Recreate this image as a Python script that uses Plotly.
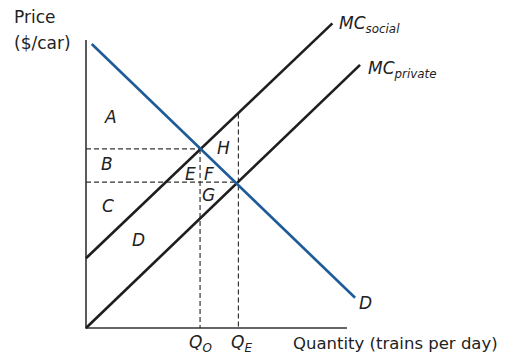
import plotly.graph_objects as go

# ---- data (chart units) ----
axis_q_max = 10.0
axis_p_max = 11.03
demand_q = [0.22, 10.31]
demand_p = [10.88, 1.16]
mc_social_q = [0.0, 9.44]
mc_social_p = [2.67, 11.67]
mc_private_q = [0.0, 10.50]
mc_private_p = [0.0, 10.08]
q_opt, p_opt = 4.37, 6.86
q_eq, p_eq = 5.84, 5.59
mc_social_at_qeq = 8.22

# ---- layout helpers (window pixels; page body has an 8px margin) ----
WIN_W, WIN_H, BODY = 510, 357, 8
X0, Y0, U = 86, 328, 26.1  # origin pixel and pixels per unit


def dx(px):
    return (px - X0) / U


def dy(py):
    return (Y0 - py) / U


FONT = "DejaVu Sans"
BLUE = "#1f5b99"
BLACK = "#1e1e1e"

fig = go.Figure()

# axes
fig.add_trace(go.Scatter(x=[0, 0, axis_q_max], y=[axis_p_max, 0, 0], mode="lines",
                         line=dict(color="#333333", width=1.6), hoverinfo="skip"))
# dashed guides
dash = dict(color="#333333", width=1.2, dash="5px,3px")
fig.add_trace(go.Scatter(x=[0, q_opt], y=[p_opt, p_opt], mode="lines", line=dash))
fig.add_trace(go.Scatter(x=[q_opt, q_opt], y=[p_opt, 0], mode="lines", line=dash))
fig.add_trace(go.Scatter(x=[0, q_eq], y=[p_eq, p_eq], mode="lines", line=dash))
fig.add_trace(go.Scatter(x=[q_eq, q_eq], y=[mc_social_at_qeq, 0], mode="lines", line=dash))
# curves
fig.add_trace(go.Scatter(x=mc_social_q, y=mc_social_p, mode="lines", line=dict(color=BLACK, width=2.6)))
fig.add_trace(go.Scatter(x=mc_private_q, y=mc_private_p, mode="lines", line=dict(color=BLACK, width=2.6)))
fig.add_trace(go.Scatter(x=demand_q, y=demand_p, mode="lines", line=dict(color=BLUE, width=2.6)))

ann = []


def label(text, px, py, size=17, xanchor="center", yanchor="middle", italic=True):
    t = f"<i>{text}</i>" if italic else text
    ann.append(dict(x=dx(px), y=dy(py), text=t, showarrow=False, xanchor=xanchor, yanchor=yanchor,
                    font=dict(family=FONT, size=size, color="#222222")))


# region letters
label("A", 110, 117)
label("B", 107, 164)
label("C", 108, 206)
label("D", 138, 240)
label("E", 190, 174)
label("F", 209, 174)
label("G", 208, 195)
label("H", 223, 148)
label("D", 365, 303)
# curve labels
label("MC<sub>social</sub>", 337, 24, xanchor="left")
label("MC<sub>private</sub>", 366, 69, xanchor="left")
# axis labels
label("Price", 12, 17, xanchor="left", italic=False)
label("($/car)", 12, 43, xanchor="left", italic=False)
label("Quantity (trains per day)", 291, 343, size=16.5, xanchor="left", italic=False)
label("Q<sub>O</sub>", 200, 343)
label("Q<sub>E</sub>", 241, 343)

fig.update_layout(
    width=WIN_W - BODY, height=WIN_H - BODY, margin=dict(l=0, r=0, t=0, b=0),
    paper_bgcolor="white", plot_bgcolor="white", showlegend=False,
    xaxis=dict(range=[dx(BODY), dx(WIN_W)], visible=False, fixedrange=True),
    yaxis=dict(range=[dy(WIN_H), dy(BODY)], visible=False, fixedrange=True),
    annotations=ann,
)

fig.write_html("out.html")
